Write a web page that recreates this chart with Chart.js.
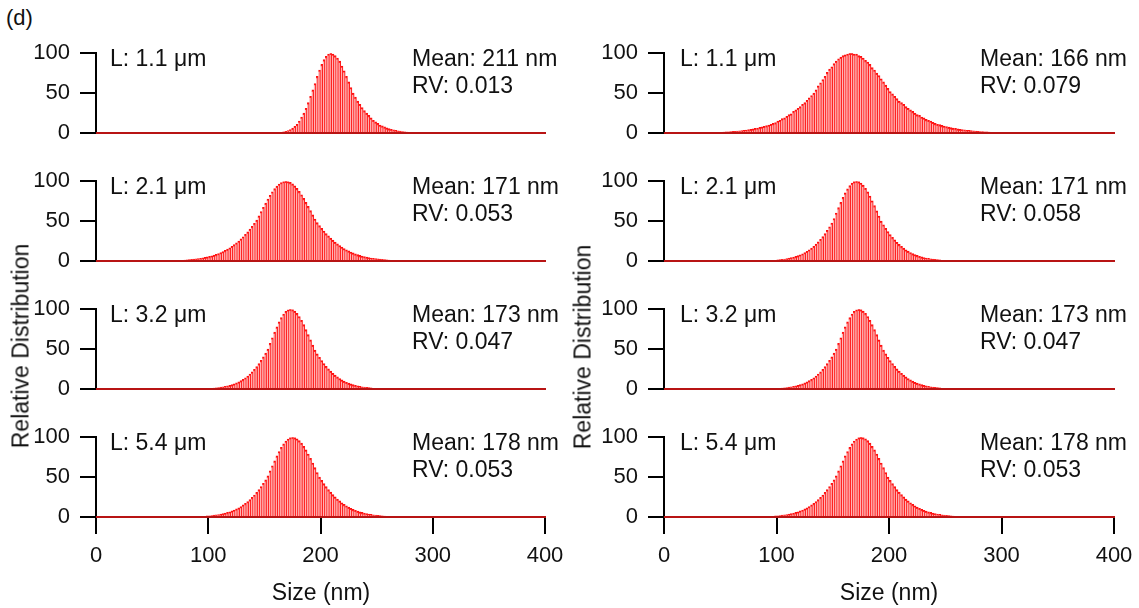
<!DOCTYPE html>
<html>
<head>
<meta charset="utf-8">
<script src="https://cdn.jsdelivr.net/npm/chart.js@4.4.1/dist/chart.umd.min.js"></script>
<style>
  body { margin: 0; background: #fff; width: 1139px; height: 608px; overflow: hidden; position: relative;
         font-family: "Liberation Sans", Arial, sans-serif; color: #111; }
  canvas { position: absolute; }
  .t { position: absolute; font-size: 23px; line-height: 27px; white-space: nowrap; }
  .ytitle { position: absolute; font-size: 23px; line-height: 27px; white-space: nowrap;
            transform: translate(-50%, -50%) rotate(-90deg); }
  .xtitle { position: absolute; font-size: 23px; line-height: 27px; white-space: nowrap; transform: translateX(-50%); }
</style>
</head>
<body>
<div class="t" style="left:6px;top:4px;font-size:22px;">(d)</div>
<script>
// Axis ticks and bin layout (nm)
const xTicks = [0, 100, 200, 300, 400];
const yTicks = [0, 50, 100];
const binWidth = 2;

// Panel annotations, per column (left, right), rows top to bottom
const fibreLengths = ['1.1', '2.1', '3.2', '5.4'];
const meansLeft = [211, 171, 173, 178];
const rvLeft = ['0.013', '0.053', '0.047', '0.053'];
const meansRight = [166, 171, 173, 178];
const rvRight = ['0.079', '0.058', '0.047', '0.053'];

// Size distributions: first bin centre (nm) + relative counts per 2 nm bin
const startL1 = 161;
const distL1 = [0.4, 0.6, 0.9, 1.4, 2.1, 3.1, 4.4, 6.2, 8.5, 11, 15, 20, 25, 31, 38, 46, 54, 62, 71, 79, 86, 92, 96, 99, 100,
  99, 97, 94, 90, 84, 78, 71, 64, 57, 50, 45, 40, 36, 32, 28, 25, 22, 19, 16, 14,
  12, 10, 8.9, 7.6, 6.5, 5.5, 4.6, 3.9, 3.3, 2.7, 2.3, 1.9, 1.6, 1.3, 1.1, 0.9, 0.7, 0.6, 0.5, 0.4];

const startL2 = 71;
const distL2 = [0.75, 0.87, 1.0, 1.15, 1.3, 1.55, 1.75, 2.0, 2.3, 2.65, 3.0, 3.5, 3.95, 4.5, 5.1, 5.8, 6.6, 7.4, 8.4, 9.4,
  10.6, 11.9, 13.3, 14.9, 16.6, 18.5, 20.5, 22.7, 25.1, 27.7, 30.4, 33.4, 36.5, 39.9, 43.4, 47.1,
  51.3, 56.6, 62.0, 67.3, 72.6, 77.7, 82.4, 86.8, 90.6, 93.9, 96.5, 98.4, 99.6, 100,
  99.6, 98.5, 96.6, 94.1, 91.0, 87.2, 83.0, 78.4, 73.5, 68.4, 63.2, 57.8, 52.6,
  48.1, 44.4, 40.9, 37.6, 34.4, 31.4, 28.7, 26.1, 23.7, 21.4, 19.4, 17.5, 15.7, 14.1, 12.6, 11.3, 10.1, 9.0, 8.0, 7.1,
  6.3, 5.6, 4.9, 4.3, 3.8, 3.4, 2.9, 2.6, 2.3, 2.0, 1.7, 1.5, 1.3, 1.15, 1.0];

const startL3 = 51;
const distL3 = [0.8, 1.0, 0.8,
  0, 0, 0, 0, 0, 0, 0, 0, 0, 0,
  0, 0, 0, 0, 0, 0, 0, 0, 0, 0,
  0.6, 0.75, 0.9, 1.1, 1.3, 1.6, 1.9, 2.3, 2.7, 3.3, 3.9, 4.6, 5.5, 6.5, 7.6, 8.9, 10.4, 12.1, 14.1, 16.3,
  18.8, 21.5, 24.6, 28.0, 31.7, 35.8, 40.2, 44.9, 50.0,
  57.1, 64.2, 71.2, 77.9, 84.1, 89.5, 94.0, 97.3, 99.3, 100,
  99.4, 97.6, 94.7, 90.9, 86.1, 80.6, 74.5, 68.1, 61.5, 54.9,
  48.8, 44.1, 39.8, 35.7, 31.9, 28.4, 25.2, 22.3, 19.7, 17.3, 15.1, 13.2, 11.4, 9.9, 8.5, 7.4, 6.4, 5.5, 4.6, 4.0,
  3.4, 2.8, 2.4, 2.0, 1.7, 1.45, 1.2, 1.0, 0.85, 0.7, 0.6];

const startL4 = 15;
const distL4 = [0.8, 1.0, 0.6, 0, 0, 0, 0, 0.6, 0.6,
  0, 0, 0, 0, 0, 0, 0, 0, 0, 0,
  0, 0, 0, 0, 0, 0, 0, 0, 0, 0,
  0, 0, 0, 0, 0, 0, 0, 0,
  0.6, 0.7, 0.83, 1.0, 1.15, 1.35, 1.6, 1.9, 2.25, 2.6, 3.1, 3.6, 4.2, 4.9, 5.7, 6.6, 7.6, 8.8, 10.1, 11.5,
  13.2, 15.1, 17.1, 19.4, 21.8, 24.6, 27.6, 30.9, 34.4, 38.2, 42.3, 46.6,
  51.6, 57.8, 64.2, 70.4, 76.5, 82.1, 87.2, 91.6, 95.2, 97.8, 99.5, 100,
  99.5, 98.1, 95.8, 92.6, 88.6, 84.1, 79.0, 73.5, 67.7, 61.8, 55.8, 50.0,
  45.8, 41.8, 38.0, 34.4, 31.1, 28.0, 25.2, 22.5, 20.2, 17.9, 15.9, 14.1, 12.4, 11.0, 9.6, 8.5, 7.4, 6.5, 5.7, 4.9,
  4.3, 3.7, 3.2, 2.7, 2.4, 2.05, 1.75, 1.5, 1.3, 1.1, 0.95, 0.8, 0.7, 0.6, 0.5];

const startR1 = 41;
const distR1 = [0.6, 0.7, 0.8, 0.9, 1.0, 1.1, 1.3, 1.4, 1.6, 1.8, 2.0, 2.2, 2.5, 2.7, 3.1, 3.4, 3.8, 4.2, 4.6, 5.2,
  5.7, 6.3, 7.0, 7.7, 8.5, 9.3, 10, 11, 12, 13, 15, 16, 18, 19, 21, 23, 24, 27, 29, 31,
  33, 36, 38, 41, 44, 47,
  50, 54, 59, 63, 67, 71, 76, 80, 83, 87, 90, 93, 95, 97, 98, 99, 100,
  100, 99, 99, 97, 96, 94, 91, 89, 86, 82, 79, 75, 72, 68, 64, 60, 56, 52,
  49, 46, 43, 40, 38, 36, 33, 31, 29, 27, 25, 23, 22, 20, 19, 17, 16, 15, 13.5, 12, 11, 10.5,
  9.6, 8.8, 8.1, 7.4, 6.8, 6.2, 5.7, 5.2, 4.7, 4.3, 3.9, 3.5, 3.2, 2.9, 2.6, 2.4, 2.1, 1.9, 1.75, 1.6,
  1.4, 1.3, 1.15, 1.05, 0.95, 0.85, 0.75];

const startR2 = 91;
const distR2 = [0.6, 0.72, 0.87, 1.05, 1.25, 1.5, 1.8, 2.1, 2.5, 3.0, 3.6, 4.2, 4.9, 5.8, 6.8, 7.8, 9.1, 10.6, 12.2, 14.1,
  16.2, 18.5, 21.1, 24.0, 27.2, 30.6, 34.4, 38.5, 42.9, 47.6,
  53.3, 60.1, 66.9, 73.5, 79.8, 85.4, 90.4, 94.5, 97.5, 99.4, 100,
  99.4, 97.7, 95.0, 91.2, 86.7, 81.4, 75.5, 69.3, 62.9, 56.4, 50.0,
  45.4, 41.0, 37.0, 33.2, 29.7, 26.5, 23.5, 20.8, 18.3, 16.1, 14.1, 12.3, 10.7, 9.3, 8.1, 7.0, 6.0, 5.2, 4.4, 3.8,
  3.2, 2.7, 2.3, 2.0, 1.7, 1.4, 1.2, 1.0, 0.85, 0.7, 0.6];

const startR3 = 51;
const distR3 = [0.7, 1.0, 0.7,
  0, 0, 0, 0, 0, 0, 0, 0, 0, 0,
  0, 0, 0, 0, 0, 0, 0, 0, 0, 0,
  0.6, 0.75, 0.9, 1.1, 1.3, 1.6, 1.9, 2.3, 2.7, 3.3, 3.9, 4.6, 5.5, 6.5, 7.6, 8.9, 10.4, 12.1, 14.1, 16.3,
  18.8, 21.5, 24.6, 28.0, 31.7, 35.8, 40.2, 44.9, 50.0,
  57.1, 64.2, 71.2, 77.9, 84.1, 89.5, 94.0, 97.3, 99.3, 100,
  99.4, 97.6, 94.7, 90.9, 86.1, 80.6, 74.5, 68.1, 61.5, 54.9,
  48.8, 44.1, 39.8, 35.7, 31.9, 28.4, 25.2, 22.3, 19.7, 17.3, 15.1, 13.2, 11.4, 9.9, 8.5, 7.4, 6.4, 5.5, 4.6, 4.0,
  3.4, 2.8, 2.4, 2.0, 1.7, 1.45, 1.2, 1.0, 0.85, 0.7, 0.6];

const startR4 = 15;
const distR4 = [0.7, 1.0, 0.6, 0, 0, 0, 0, 0.6, 0.6,
  0, 0, 0, 0, 0, 0, 0, 0, 0, 0,
  0, 0, 0, 0, 0, 0, 0, 0, 0, 0,
  0, 0, 0, 0, 0, 0, 0, 0,
  0.6, 0.7, 0.83, 1.0, 1.15, 1.35, 1.6, 1.9, 2.25, 2.6, 3.1, 3.6, 4.2, 4.9, 5.7, 6.6, 7.6, 8.8, 10.1, 11.5,
  13.2, 15.1, 17.1, 19.4, 21.8, 24.6, 27.6, 30.9, 34.4, 38.2, 42.3, 46.6,
  51.6, 57.8, 64.2, 70.4, 76.5, 82.1, 87.2, 91.6, 95.2, 97.8, 99.5, 100,
  99.5, 98.1, 95.8, 92.6, 88.6, 84.1, 79.0, 73.5, 67.7, 61.8, 55.8, 50.0,
  45.8, 41.8, 38.0, 34.4, 31.1, 28.0, 25.2, 22.5, 20.2, 17.9, 15.9, 14.1, 12.4, 11.0, 9.6, 8.5, 7.4, 6.5, 5.7, 4.9,
  4.3, 3.7, 3.2, 2.7, 2.4, 2.05, 1.75, 1.5, 1.3, 1.1, 0.95, 0.8, 0.7, 0.6, 0.5];

const FONT = '"Liberation Sans", Arial, sans-serif';

// Dark red zero line drawn over the bars
const baselinePlugin = {
  id: 'baseline',
  afterDatasetsDraw(chart) {
    const { ctx, chartArea: a } = chart;
    ctx.save();
    ctx.strokeStyle = '#b81414';
    ctx.lineWidth = 2;
    ctx.beginPath();
    ctx.moveTo(a.left, a.bottom);
    ctx.lineTo(a.right, a.bottom);
    ctx.stroke();
    ctx.restore();
  }
};

function addText(cls, html, left, top) {
  const d = document.createElement('div');
  d.className = cls;
  d.innerHTML = html;
  d.style.left = left + 'px';
  d.style.top = top + 'px';
  document.body.appendChild(d);
  return d;
}

function makePanel(col, row, start, values) {
  const isBottom = row === 3;
  const canvas = document.createElement('canvas');
  canvas.width = 580;
  canvas.height = isBottom ? 194 : 128;
  canvas.style.left = (col === 0 ? 0 : 568) + 'px';
  canvas.style.top = (30 + 128 * row) + 'px';
  document.body.appendChild(canvas);

  const points = values.map((v, i) => ({ x: start + i * binWidth, y: v }));

  new Chart(canvas, {
    type: 'bar',
    data: {
      datasets: [{
        data: points,
        backgroundColor: 'rgba(255, 90, 90, 0.45)',
        borderColor: '#ff1010',
        borderWidth: { top: 1.5, right: 0.6, left: 0, bottom: 0 },
        borderSkipped: 'bottom',
        barPercentage: 1,
        categoryPercentage: 1
      }]
    },
    options: {
      responsive: false,
      animation: false,
      devicePixelRatio: 1,
      layout: { padding: { left: 0, top: 15, right: col === 0 ? 35 : 34, bottom: 0 } },
      plugins: { legend: { display: false }, tooltip: { enabled: false } },
      scales: {
        x: {
          type: 'linear', min: xTicks[0], max: xTicks[xTicks.length - 1], offset: false,
          afterFit: s => { s.height = isBottom ? 91 : 25; s.paddingLeft = 0; s.paddingRight = 0; },
          afterBuildTicks: s => { s.ticks = xTicks.map(v => ({ value: v })); },
          grid: { offset: false, drawOnChartArea: false, drawTicks: isBottom, tickLength: 17, color: '#000', lineWidth: 2 },
          border: { display: true, color: '#b81414', width: 2 },
          ticks: { display: isBottom, padding: 9, maxRotation: 0, autoSkip: false,
                   font: { size: 22, family: FONT }, color: '#111' }
        },
        y: {
          min: yTicks[0], max: yTicks[yTicks.length - 1],
          afterFit: s => { s.width = 96; },
          afterBuildTicks: s => { s.ticks = yTicks.map(v => ({ value: v })); },
          grid: { drawOnChartArea: false, tickLength: 16, color: '#000', lineWidth: 2 },
          border: { color: '#000', width: 2 },
          ticks: { padding: 10, font: { size: 22, family: FONT }, color: '#111' }
        }
      }
    },
    plugins: [baselinePlugin]
  });

  const means = col === 0 ? meansLeft : meansRight;
  const rvs = col === 0 ? rvLeft : rvRight;
  const top = 44.5 + 128 * row;
  addText('t', 'L: ' + fibreLengths[row] + ' μm', col === 0 ? 110 : 680, top);
  addText('t', 'Mean: ' + means[row] + ' nm<br>RV: ' + rvs[row], col === 0 ? 412 : 980, top);
}

makePanel(0, 0, startL1, distL1);
makePanel(0, 1, startL2, distL2);
makePanel(0, 2, startL3, distL3);
makePanel(0, 3, startL4, distL4);
makePanel(1, 0, startR1, distR1);
makePanel(1, 1, startR2, distR2);
makePanel(1, 2, startR3, distR3);
makePanel(1, 3, startR4, distR4);

addText('ytitle', 'Relative Distribution', 21, 346);
addText('ytitle', 'Relative Distribution', 583, 347);
addText('xtitle', 'Size (nm)', 321, 578.5);
addText('xtitle', 'Size (nm)', 889, 578.5);
</script>
</body>
</html>
